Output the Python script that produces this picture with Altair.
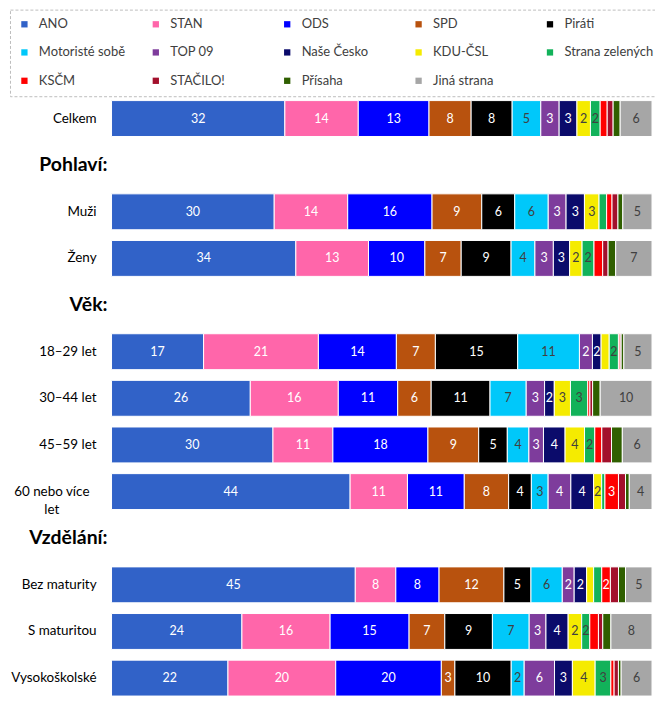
import altair as alt
import pandas as pd

parties = ["ANO", "STAN", "ODS", "SPD", "Piráti", "Motoristé sobě", "TOP 09",
           "Naše Česko", "KDU-ČSL", "Strana zelených", "KSČM", "STAČILO!",
           "Přísaha", "Jiná strana"]
colors = ["#3162C8", "#FF66AA", "#0000FF", "#B8520E", "#000000", "#00C8FA",
          "#7E3C9C", "#0B0B6B", "#F5EB00", "#12B25A", "#FF0000", "#A3102C",
          "#2F5F00", "#A6A6A6"]
dark_label_parties = ["Motoristé sobě", "KDU-ČSL", "Strana zelených", "Jiná strana"]

row_names = ["Celkem", "Pohlaví:", "Muži", "Ženy", "Věk:", "18–29 let",
             "30–44 let", "45–59 let", "60 nebo více let", "Vzdělání:",
             "Bez maturity", "S maturitou", "Vysokoškolské"]
headers = ["Pohlaví:", "Věk:", "Vzdělání:"]

# estimated shares (%) in party order
celkem = [32.1, 13.6, 13.1, 7.8, 7.6, 5.3, 3.4, 3.3, 2.5, 1.8, 1.3, 1.1, 1.3, 5.9]
muzi = [30.1, 13.6, 15.6, 9.2, 6.1, 6.2, 3.3, 3.4, 2.7, 1.4, 1.0, 1.1, 0.9, 5.4]
zeny = [34.0, 13.4, 10.4, 6.7, 9.2, 4.4, 3.4, 3.0, 2.3, 2.2, 1.6, 1.0, 1.4, 6.7]
vek_18_29 = [17.0, 21.2, 14.4, 7.2, 15.2, 11.4, 2.4, 1.6, 1.5, 1.7, 0.3, 0.2, 0.5, 5.2]
vek_30_44 = [25.7, 16.3, 11.0, 6.2, 10.9, 6.7, 3.4, 1.8, 3.0, 3.2, 0.4, 0.5, 1.4, 9.6]
vek_45_59 = [29.9, 11.1, 17.6, 9.4, 5.3, 4.0, 2.7, 4.0, 3.6, 1.9, 1.3, 1.8, 2.0, 5.5]
vek_60 = [44.1, 10.6, 10.5, 8.2, 4.2, 3.1, 4.2, 4.2, 1.5, 0.6, 2.5, 1.3, 0.7, 4.2]
bez_maturity = [45.1, 7.5, 8.0, 12.0, 5.0, 5.8, 2.2, 2.3, 1.3, 1.5, 1.6, 1.5, 1.3, 4.9]
s_maturitou = [24.1, 16.3, 14.6, 6.6, 8.8, 6.8, 3.1, 4.1, 2.5, 1.5, 1.6, 0.8, 1.5, 7.6]
vysokoskolske = [21.5, 19.9, 19.5, 2.5, 10.4, 2.4, 5.6, 3.3, 4.2, 2.9, 0.6, 0.8, 0.5, 5.7]

# value labels printed in the bars (None = no label)
celkem_lbl = [32, 14, 13, 8, 8, 5, 3, 3, 2, 2, None, None, None, 6]
muzi_lbl = [30, 14, 16, 9, 6, 6, 3, 3, 3, None, None, None, None, 5]
zeny_lbl = [34, 13, 10, 7, 9, 4, 3, 3, 2, 2, None, None, None, 7]
vek_18_29_lbl = [17, 21, 14, 7, 15, 11, 2, 2, None, 2, None, None, None, 5]
vek_30_44_lbl = [26, 16, 11, 6, 11, 7, 3, 2, 3, 3, None, None, None, 10]
vek_45_59_lbl = [30, 11, 18, 9, 5, 4, 3, 4, 4, 2, None, None, None, 6]
vek_60_lbl = [44, 11, 11, 8, 4, 3, 4, 4, 2, None, 3, None, None, 4]
bez_maturity_lbl = [45, 8, 8, 12, 5, 6, 2, 2, None, None, 2, None, None, 5]
s_maturitou_lbl = [24, 16, 15, 7, 9, 7, 3, 4, 2, 2, None, None, None, 8]
vysokoskolske_lbl = [22, 20, 20, 3, 10, 2, 6, 3, 4, 3, None, None, None, 6]

series = {
    "Celkem": (celkem, celkem_lbl),
    "Muži": (muzi, muzi_lbl),
    "Ženy": (zeny, zeny_lbl),
    "18–29 let": (vek_18_29, vek_18_29_lbl),
    "30–44 let": (vek_30_44, vek_30_44_lbl),
    "45–59 let": (vek_45_59, vek_45_59_lbl),
    "60 nebo více let": (vek_60, vek_60_lbl),
    "Bez maturity": (bez_maturity, bez_maturity_lbl),
    "S maturitou": (s_maturitou, s_maturitou_lbl),
    "Vysokoškolské": (vysokoskolske, vysokoskolske_lbl),
}

records = []
for row, (vals, lbls) in series.items():
    for i, (p, v, l) in enumerate(zip(parties, vals, lbls)):
        records.append({"row": row, "party": p, "order": i, "value": v,
                        "label": "" if l is None else str(l)})
df = pd.DataFrame(records)

row_df = pd.DataFrame({
    "row": [r for r in row_names if r not in headers and r != "60 nebo více let"]
})
multi_df = pd.DataFrame({"row": ["60 nebo více let"], "text": ["60 nebo více\nlet"]})
head_df = pd.DataFrame({"row": headers})

FONT = "Lato"
yscale = alt.Scale(domain=row_names, paddingInner=0.23, paddingOuter=0.115)
xscale = alt.Scale(domain=[0, 1])

base = alt.Chart(df).transform_stack(
    stack="value", groupby=["row"], as_=["x0", "x1"],
    sort=[alt.SortField("order", order="ascending")], offset="normalize"
).transform_calculate(mid="(datum.x0 + datum.x1) / 2")

bars = base.mark_bar(stroke="white", strokeWidth=1).encode(
    y=alt.Y("row:N", scale=yscale, axis=None),
    x=alt.X("x0:Q", scale=xscale, axis=None),
    x2="x1:Q",
    color=alt.Color(
        "party:N", title=None,
        scale=alt.Scale(domain=parties, range=colors),
        legend=alt.Legend(
            orient="none", legendX=-102, legendY=-86, direction="horizontal",
            columns=5, gridAlign="all", columnPadding=21, rowPadding=14.5,
            symbolType="square", symbolSize=40, symbolStrokeWidth=0,
            labelFontSize=13, labelFont=FONT, labelColor="#404040",
            labelOffset=8, labelLimit=200, padding=8,
        ),
    ),
    order=alt.Order("order:Q"),
)

values_text = base.transform_filter("datum.label != ''").mark_text(
    fontSize=12.5, font=FONT
).encode(
    y=alt.Y("row:N", scale=yscale, axis=None),
    x=alt.X("mid:Q", scale=xscale, axis=None),
    text="label:N",
    color=alt.condition(
        alt.FieldOneOfPredicate(field="party", oneOf=dark_label_parties),
        alt.value("#404040"), alt.value("white")),
)

row_labels = alt.Chart(row_df).mark_text(
    align="right", dx=-15, fontSize=13.5, font=FONT, color="black"
).encode(
    y=alt.Y("row:N", scale=yscale, axis=None),
    x=alt.value(0),
    text="row:N",
)

multi_label = alt.Chart(multi_df).mark_text(
    align="center", dx=-60, fontSize=13.5, font=FONT, color="black",
    lineBreak="\n", lineHeight=19
).encode(
    y=alt.Y("row:N", scale=yscale, axis=None),
    x=alt.value(0),
    text="text:N",
)

head_labels = alt.Chart(head_df).mark_text(
    align="right", dx=-4, fontSize=19.5, fontWeight="bold", font=FONT, color="black"
).encode(
    y=alt.Y("row:N", scale=yscale, axis=None),
    x=alt.value(0),
    text="row:N",
)

chart = alt.layer(bars, values_text, row_labels, multi_label, head_labels).properties(
    width=543, height=609,
    autosize=alt.AutoSizeParams(type="none"),
    padding={"left": 104, "top": 86, "right": 3, "bottom": 8},
).configure_view(strokeWidth=0).configure_legend(
    strokeColor="#bdbdbd", strokeDash=[3, 2]
)

chart.save("out.html", embed_options={"renderer": "svg", "actions": False})
